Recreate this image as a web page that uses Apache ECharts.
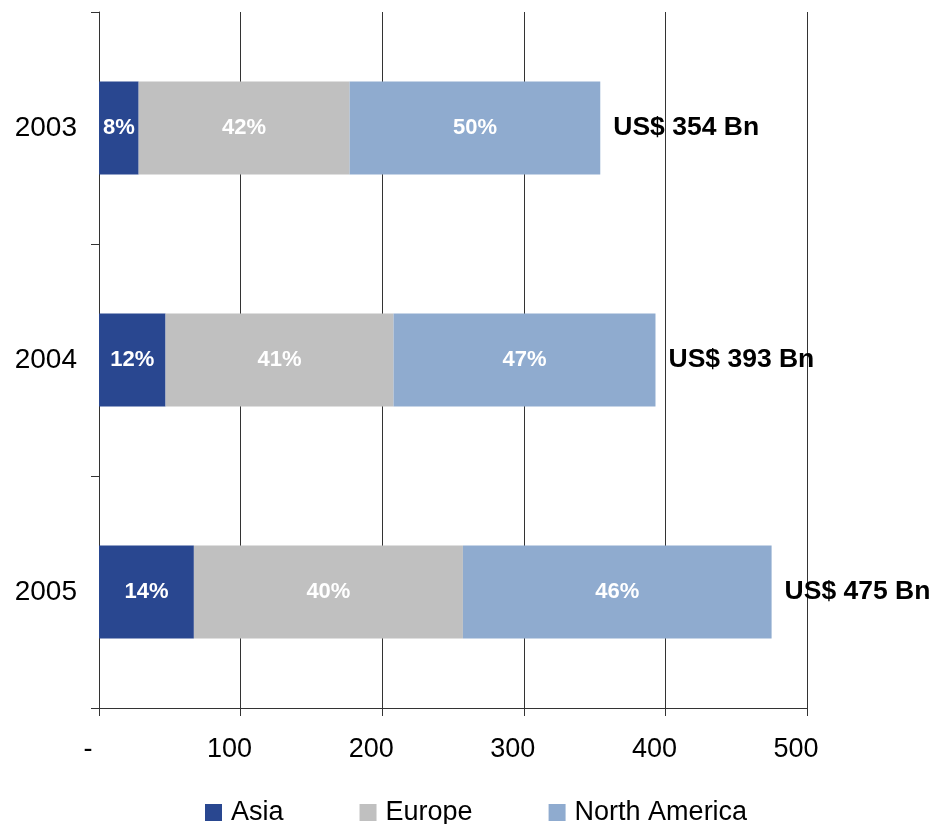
<!DOCTYPE html>
<html>
<head>
<meta charset="utf-8">
<script src="https://cdn.jsdelivr.net/npm/echarts@6/dist/echarts.min.js"></script>
<style>html,body{margin:0;padding:0;background:#fff}#c{width:934px;height:824px}</style>
</head>
<body>
<div id="c"></div>
<script>
var categories = ['2003', '2004', '2005'];
var asia = [28, 47, 67];
var europe = [149, 161, 190];
var northAmerica = [177, 185, 218];
var asiaPct = [8, 12, 14];
var europePct = [42, 41, 40];
var northAmericaPct = [50, 47, 46];
var totals = [354, 393, 475];
var xTicks = [0, 100, 200, 300, 400, 500];

var FONT = '"Liberation Sans", Arial, sans-serif';
var chart = echarts.init(document.getElementById('c'));

function pctLabel(arr) {
  return {
    show: true, position: 'inside', color: '#fff', fontWeight: 'bold',
    fontSize: 22, fontFamily: FONT,
    formatter: function (p) { return arr[p.dataIndex] + '%'; }
  };
}

chart.setOption({
  animation: false,
  backgroundColor: '#fff',
  grid: { left: 99, right: 127, top: 12, bottom: 116, containLabel: false },
  legend: {
    top: 794, left: 200,
    data: ['Asia', 'Europe', 'North America'],
    icon: 'rect', itemWidth: 17, itemHeight: 17, itemGap: 76,
    textStyle: { fontSize: 27, fontFamily: FONT, color: '#000', padding: [0, 0, 0, 4] }
  },
  xAxis: {
    type: 'value', min: xTicks[0], max: xTicks[xTicks.length - 1], interval: 100,
    axisLine: { show: true, lineStyle: { color: '#333', width: 1 } },
    axisTick: { show: true, length: 8, lineStyle: { color: '#333' } },
    splitLine: { show: true, lineStyle: { color: '#333', width: 1 } },
    axisLabel: {
      margin: 28, fontSize: 27, fontFamily: FONT, color: '#000',
      padding: [0, 22, 0, 0],
      formatter: function (v) { return v === 0 ? '-' : String(v); }
    }
  },
  yAxis: {
    type: 'category', data: categories, inverse: true,
    axisLine: { show: true, lineStyle: { color: '#333', width: 1 } },
    axisTick: { show: true, length: 8, lineStyle: { color: '#333' } },
    axisLabel: { margin: 22, fontSize: 28, fontFamily: FONT, color: '#000' }
  },
  series: [
    { name: 'Asia', type: 'bar', stack: 't', barWidth: '40%', data: asia,
      itemStyle: { color: '#294790' }, label: pctLabel(asiaPct) },
    { name: 'Europe', type: 'bar', stack: 't', data: europe,
      itemStyle: { color: '#C0C0C0' }, label: pctLabel(europePct) },
    { name: 'North America', type: 'bar', stack: 't', data: northAmerica,
      itemStyle: { color: '#8FABCF' }, label: pctLabel(northAmericaPct) },
    { name: 'Total', type: 'bar', stack: 't', data: totals.map(function () { return 0; }),
      itemStyle: { color: 'transparent' },
      label: {
        show: true, position: 'right', distance: 13, color: '#000', fontWeight: 'bold',
        fontSize: 26.5, fontFamily: FONT,
        formatter: function (p) { return 'US$ ' + totals[p.dataIndex] + ' Bn'; }
      }
    }
  ]
});
</script>
</body>
</html>
